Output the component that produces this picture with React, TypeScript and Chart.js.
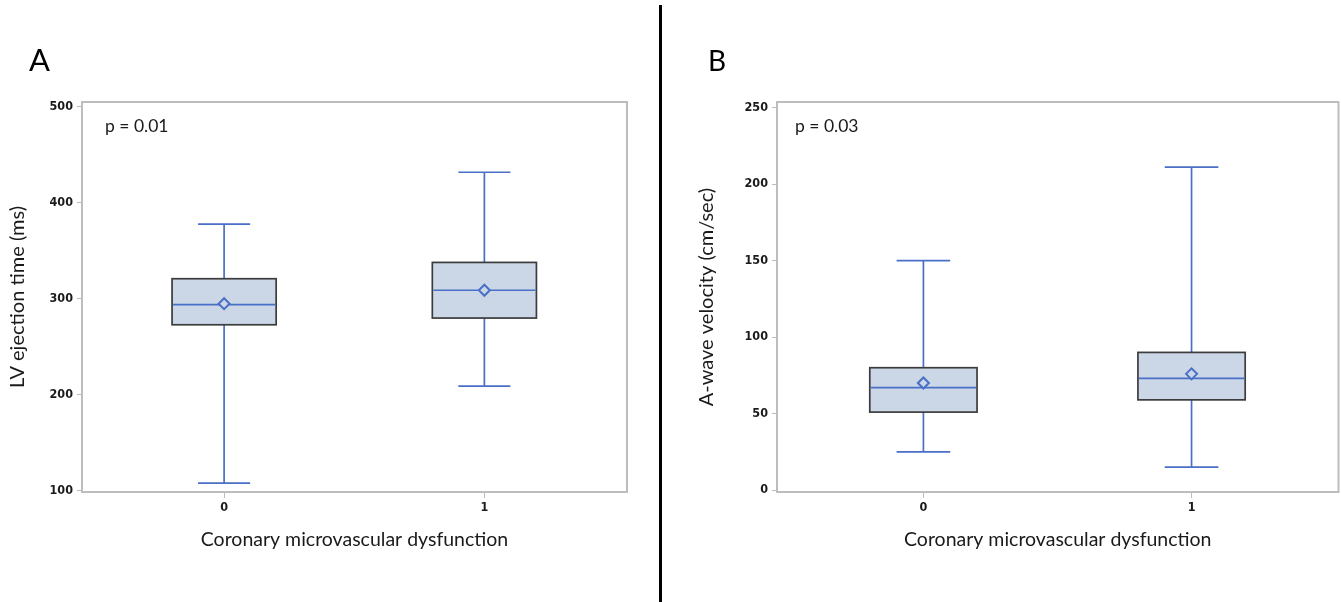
import React, { useEffect, useRef } from "react";
import { Chart, registerables } from "chart.js";

Chart.register(...registerables);

// ---- Data ----
const categories = ["0", "1"];

// Panel A: LV ejection time (ms)
const aMin = [108, 209];
const aQ1 = [273, 280];
const aMedian = [294, 309];
const aQ3 = [321, 338];
const aMax = [378, 432];
const aMean = [295, 309];
const aTicks = [100, 200, 300, 400, 500];

// Panel B: A-wave velocity (cm/sec)
const bMin = [25, 15];
const bQ1 = [51, 59];
const bMedian = [67, 73];
const bQ3 = [80, 90];
const bMax = [150, 211];
const bMean = [70, 76];
const bTicks = [0, 50, 100, 150, 200, 250];

const xTitle = "Coronary microvascular dysfunction";

const BLUE = "#4a6fc6";
const FILL = "#cbd6e7";
const BOX_EDGE = "#3c3c3c";
const FRAME = "#bdbdbd";
const TEXT = "#1a1a1a";
const TITLE_FONT = "Lato, 'Open Sans', sans-serif";
const TICK_FONT = "'Liberation Sans Narrow', 'DejaVu Sans Condensed', Arial, sans-serif";

interface PanelProps {
  left: number;
  width: number;
  yTitle: string;
  yMin: number;
  yMax: number;
  ticks: number[];
  mins: number[];
  q1: number[];
  med: number[];
  q3: number[];
  maxs: number[];
  means: number[];
  pText: string;
  pOffset: number;
  yAxisWidth: number;
  yTitlePad: number;
  padRight: number;
}

function Panel(p: PanelProps) {
  const ref = useRef<HTMLCanvasElement | null>(null);
  useEffect(() => {
    if (!ref.current) return;
    const boxPlugin = {
      id: "boxes",
      beforeDatasetsDraw(chart: any) {
        const { ctx } = chart;
        const xs = chart.scales.x;
        const ys = chart.scales.y;
        const boxHalf = 0.2;
        const capHalf = 0.1;
        ctx.save();
        for (let i = 0; i < categories.length; i++) {
          const xc = xs.getPixelForValue(i);
          const xl = xs.getPixelForValue(i - boxHalf);
          const xr = xs.getPixelForValue(i + boxHalf);
          const cl = xs.getPixelForValue(i - capHalf);
          const cr = xs.getPixelForValue(i + capHalf);
          const yMinP = ys.getPixelForValue(p.mins[i]);
          const yQ1 = ys.getPixelForValue(p.q1[i]);
          const yMed = ys.getPixelForValue(p.med[i]);
          const yQ3 = ys.getPixelForValue(p.q3[i]);
          const yMaxP = ys.getPixelForValue(p.maxs[i]);
          // whiskers
          ctx.strokeStyle = BLUE;
          ctx.lineWidth = 1.7;
          ctx.beginPath();
          ctx.moveTo(xc, yQ3);
          ctx.lineTo(xc, yMaxP);
          ctx.moveTo(cl, yMaxP);
          ctx.lineTo(cr, yMaxP);
          ctx.moveTo(xc, yQ1);
          ctx.lineTo(xc, yMinP);
          ctx.moveTo(cl, yMinP);
          ctx.lineTo(cr, yMinP);
          ctx.stroke();
          // box
          ctx.fillStyle = FILL;
          ctx.fillRect(xl, yQ3, xr - xl, yQ1 - yQ3);
          ctx.strokeStyle = BOX_EDGE;
          ctx.lineWidth = 1.7;
          ctx.strokeRect(xl, yQ3, xr - xl, yQ1 - yQ3);
          // median
          ctx.strokeStyle = BLUE;
          ctx.lineWidth = 1.7;
          ctx.beginPath();
          ctx.moveTo(xl + 1, yMed);
          ctx.lineTo(xr - 1, yMed);
          ctx.stroke();
        }
        ctx.restore();
      },
      afterDraw(chart: any) {
        const { ctx, chartArea } = chart;
        ctx.save();
        ctx.strokeStyle = FRAME;
        ctx.lineWidth = 2;
        ctx.strokeRect(chartArea.left, chartArea.top, chartArea.right - chartArea.left, chartArea.bottom - chartArea.top);
        ctx.fillStyle = TEXT;
        ctx.font = `17.5px ${TITLE_FONT}`;
        ctx.textBaseline = "alphabetic";
        ctx.textAlign = "left";
        ctx.fillText(p.pText, chartArea.left + p.pOffset, chartArea.top + 30);
        ctx.restore();
      },
    };

    const chart = new Chart(ref.current, {
      type: "scatter",
      data: {
        datasets: [
          {
            data: p.means.map((m, i) => ({ x: i, y: m })),
            pointStyle: "rectRot",
            pointRadius: 5.5,
            borderColor: BLUE,
            backgroundColor: FILL,
            borderWidth: 2,
          },
        ],
      },
      options: {
        animation: false,
        responsive: false,
        maintainAspectRatio: false,
        layout: { padding: { top: 102, right: p.padRight, left: 0, bottom: 0 } },
        plugins: { legend: { display: false }, tooltip: { enabled: false } },
        scales: {
          x: {
            type: "linear",
            min: -0.546,
            max: 1.548,
            afterBuildTicks: (s: any) => {
              s.ticks = categories.map((_, i) => ({ value: i }));
            },
            afterFit: (s: any) => {
              s.height = 110;
            },
            ticks: {
              callback: (v: any) => categories[v as number],
              font: { family: TICK_FONT, size: 12.5, weight: "bold" },
              color: TEXT,
              padding: 2,
              maxRotation: 0,
            },
            grid: { drawOnChartArea: false, tickLength: 6, color: FRAME, lineWidth: 1 },
            border: { display: false },
            title: {
              display: true,
              text: xTitle,
              font: { family: TITLE_FONT, size: 19.5 },
              color: TEXT,
              padding: { top: 0, bottom: 51 },
            },
          },
          y: {
            type: "linear",
            min: p.yMin,
            max: p.yMax,
            afterBuildTicks: (s: any) => {
              s.ticks = p.ticks.map((v) => ({ value: v }));
            },
            afterFit: (s: any) => {
              s.width = p.yAxisWidth;
            },
            ticks: {
              font: { family: TICK_FONT, size: 12.5, weight: "bold" },
              color: TEXT,
              padding: 4,
            },
            grid: { drawOnChartArea: false, tickLength: 5, color: FRAME, lineWidth: 1 },
            border: { display: false },
            title: {
              display: true,
              text: p.yTitle,
              font: { family: TITLE_FONT, size: 20 },
              color: TEXT,
              padding: { top: p.yTitlePad, bottom: 0 },
            },
          },
        },
      },
      plugins: [boxPlugin],
    } as any);
    return () => chart.destroy();
  }, []);
  return (
    <canvas
      ref={ref}
      width={p.width}
      height={602}
      style={{ position: "absolute", left: p.left, top: 0, width: p.width, height: 602 }}
    />
  );
}

export default function App() {
  return (
    <div
      style={{
        position: "fixed",
        left: 0,
        top: 0,
        width: 1341,
        height: 602,
        background: "#fff",
        overflow: "hidden",
      }}
    >
      <Panel
        left={0}
        width={660}
        yTitle="LV ejection time (ms)"
        yMin={98.7}
        yMax={505.2}
        ticks={aTicks}
        mins={aMin}
        q1={aQ1}
        med={aMedian}
        q3={aQ3}
        maxs={aMax}
        means={aMean}
        pText="p = 0.01"
        pOffset={23}
        yAxisWidth={82}
        yTitlePad={6}
        padRight={33}
      />
      <Panel
        left={670}
        width={676}
        yTitle="A-wave velocity (cm/sec)"
        yMin={-1.2}
        yMax={253.6}
        ticks={bTicks}
        mins={bMin}
        q1={bQ1}
        med={bMedian}
        q3={bQ3}
        maxs={bMax}
        means={bMean}
        pText="p = 0.03"
        pOffset={18}
        yAxisWidth={107}
        yTitlePad={25}
        padRight={2}
      />
      <div style={{ position: "absolute", left: 659, top: 5, width: 3, height: 597, background: "#000" }} />
      <div
        style={{
          position: "absolute",
          left: 29,
          top: 44,
          fontFamily: TITLE_FONT,
          fontSize: 31,
          lineHeight: "31px",
          color: "#000",
        }}
      >
        A
      </div>
      <div
        style={{
          position: "absolute",
          left: 708,
          top: 46,
          fontFamily: TITLE_FONT,
          fontSize: 28,
          lineHeight: "28px",
          color: "#000",
        }}
      >
        B
      </div>
    </div>
  );
}
